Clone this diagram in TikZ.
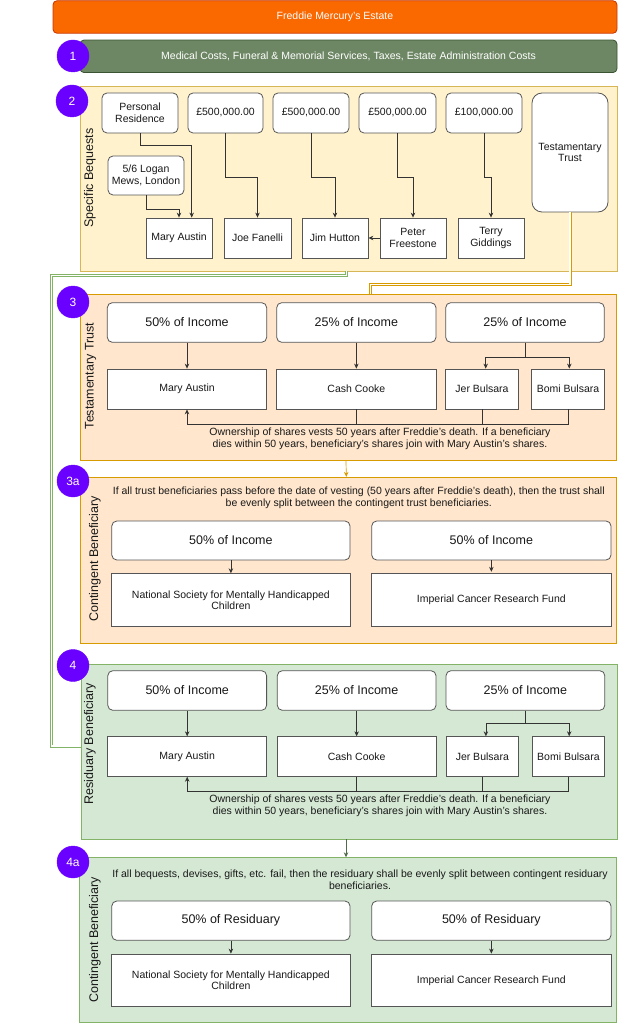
\documentclass[tikz,border=0pt]{standalone}
\usepackage{fontspec}
\setmainfont{Liberation Sans}
\usetikzlibrary{arrows.meta,calc}
\definecolor{estF}{HTML}{FA6800}
\definecolor{estD}{HTML}{C73500}
\definecolor{grnF}{HTML}{6D8764}
\definecolor{grnD}{HTML}{3A5431}
\definecolor{purF}{HTML}{6A00FF}
\definecolor{purD}{HTML}{3700CC}
\definecolor{yelF}{HTML}{FFF2CC}
\definecolor{yelD}{HTML}{D6B656}
\definecolor{ornF}{HTML}{FFE6CC}
\definecolor{ornD}{HTML}{D79B00}
\definecolor{lgrF}{HTML}{D5E8D4}
\definecolor{lgrD}{HTML}{82B366}
\definecolor{boxD}{HTML}{555555}
\definecolor{lnC}{HTML}{333333}
\definecolor{arrG}{HTML}{4F6B4A}
\tikzset{
  sm/.style={font=\fontsize{10.5}{11.6}\selectfont},
  big/.style={font=\fontsize{12.5}{14}\selectfont},
  bx/.style={draw=boxD, fill=white, line width=0.8pt, inner sep=1pt, align=center, sm, text=black!90},
  rbx/.style={bx, rounded corners=5pt},
  panel/.style={line width=0.8pt, inner sep=0pt},
  num/.style={circle, fill=purF, draw=purF, minimum size=32pt, inner sep=0pt, text=white, font=\fontsize{12}{14}\selectfont},
  arr/.style={draw=lnC, line width=0.7pt, -{Stealth[length=5pt,width=4.5pt]}},
  ln/.style={draw=lnC, line width=0.7pt},
  lbl/.style={rotate=90, big, text=black!90},
  note/.style={sm, align=center, text=black!90},
  glink/.style={draw=lgrD, line width=0.7pt, double=white, double distance=1.6pt},
  olink/.style={draw=ornD, line width=0.7pt, double=white, double distance=1.6pt},
}
\begin{document}
\begin{tikzpicture}[x=1pt,y=-1pt]
\useasboundingbox (0,0) rectangle (619,1024);
% ---------- top bars
\node[panel, fill=estF, draw=estD, rounded corners=4pt, minimum width=564pt, minimum height=32.5pt, text=white, sm] (estate) at (335,17) {Freddie Mercury's Estate};
\node[panel, fill=grnF, draw=grnD, rounded corners=4pt, minimum width=537pt, minimum height=32.5pt, text=white, sm] (costs) at (348.5,56.3) {Medical Costs, Funeral \& Memorial Services, Taxes, Estate Administration Costs};
% ---------- panels
\node[panel, fill=yelF, draw=yelD, minimum width=537pt, minimum height=185pt] (p2) at (348.5,178.5) {};
\node[panel, fill=ornF, draw=ornD, minimum width=536pt, minimum height=165.7pt] (p3) at (348,377.2) {};
\node[panel, fill=ornF, draw=ornD, minimum width=536pt, minimum height=166pt] (p3a) at (348,560.3) {};
\node[panel, fill=lgrF, draw=lgrD, minimum width=536pt, minimum height=175pt] (p4) at (349,751.5) {};
\node[panel, fill=lgrF, draw=lgrD, minimum width=537pt, minimum height=165pt] (p4a) at (348.2,940.2) {};
% ---------- section 2 boxes
\node[rbx, minimum width=76pt, minimum height=40pt] (pr) at (140,113) {Personal\\Residence};
\node[rbx, minimum width=75pt, minimum height=40pt] (m1) at (225.5,113) {£500,000.00};
\node[rbx, minimum width=76pt, minimum height=40pt] (m2) at (311,113) {£500,000.00};
\node[rbx, minimum width=77pt, minimum height=40pt] (m3) at (397.5,113) {£500,000.00};
\node[rbx, minimum width=76pt, minimum height=40pt] (m4) at (484,113) {£100,000.00};
\node[bx, rounded corners=10pt, minimum width=76pt, minimum height=119pt] (tt) at (570,152.5) {Testamentary\\Trust};
\node[rbx, minimum width=76pt, minimum height=39pt] (lm) at (146,175.5) {5/6 Logan\\Mews, London};
\node[bx, minimum width=66pt, minimum height=40pt] (ma) at (179,238) {Mary Austin};
\node[bx, minimum width=67pt, minimum height=40pt] (jf) at (257.5,238) {Joe Fanelli};
\node[bx, minimum width=66pt, minimum height=40pt] (jh) at (335,238) {Jim Hutton};
\node[bx, minimum width=66pt, minimum height=40pt] (pf) at (413,238) {Peter\\Freestone};
\node[bx, minimum width=66pt, minimum height=40pt] (tg) at (491,238) {Terry\\Giddings};
\node[lbl] (l2) at (90,178) {Specific Bequests};
% links between sections
\coordinate (g1) at (51.5,275.5);
\coordinate (g2) at (51.5,746);
\draw[glink] ([xshift=-2pt]p2.south) |- (g1) -- (g2) -- (g2 -| p4.west);
\coordinate (o1) at (370.3,284.5);
\draw[olink] (tt.south) |- (o1) -- (o1 |- p3.north);
% section 2 connectors
\draw[arr] (pr.south) -- ++(0,12) -| ([xshift=12.7pt]ma.north);
\draw[arr] (lm.south) -- ++(0,14) -| (ma.north);
\draw[arr] (m1.south) -- ++(0,43.7) -| (jf.north);
\draw[arr] (m2.south) -- ++(0,43.7) -| (jh.north);
\draw[arr] (m3.south) -- ++(0,44) -| (pf.north);
\draw[arr] (m4.south) -- ++(0,44) -| (tg.north);
\draw[arr] (pf.west) -- (jh.east);
% ---------- section 3
\node[rbx, big, minimum width=159.4pt, minimum height=39.6pt] (i1) at (187,322.5) {50\% of Income};
\node[rbx, big, minimum width=159.3pt, minimum height=39.6pt] (i2) at (356.35,322.5) {25\% of Income};
\node[rbx, big, minimum width=158.6pt, minimum height=39.6pt] (i3) at (525,322.5) {25\% of Income};
\node[bx, minimum width=159.4pt, minimum height=40pt] (ma3) at (187,389) {Mary Austin};
\node[bx, minimum width=159.3pt, minimum height=40pt] (cc3) at (356.35,389) {Cash Cooke};
\node[bx, minimum width=72.6pt, minimum height=40pt] (jb3) at (482,389) {Jer Bulsara};
\node[bx, minimum width=72.6pt, minimum height=40pt] (bb3) at (568,389) {Bomi Bulsara};
\draw[arr] (i1.south) -- (ma3.north);
\draw[arr] (i2.south) -- (cc3.north);
\draw[arr] (i3.south) -- ++(0,14.4) -| ([xshift=3.7pt]jb3.north);
\draw[arr] (i3.south) -- ++(0,14.4) -| ([xshift=1.3pt]bb3.north);
\draw[arr] (bb3.south) -- ++(0,15.3) -| (ma3.south);
\draw[ln] (cc3.south) -- ++(0,15.3);
\draw[ln] (jb3.south) -- ++(0,15.3);
\node[note] (t3) at (380,439) {Ownership of shares vests 50 years after Freddie's death. If a beneficiary\\dies within 50 years, beneficiary's shares join with Mary Austin's shares.};
\node[lbl] (l3) at (90.7,376) {Testamentary Trust};
\draw[draw=ornD, line width=0.7pt, -{Stealth[length=5pt,width=4.5pt]}] ([xshift=-2pt]p3.south) -- ([xshift=-1.7pt]p3a.north);
% ---------- section 3a
\node[note] (t3a) at (358.8,498) {If all trust beneficiaries pass before the date of vesting (50 years after Freddie's death), then the trust shall\\be evenly split between the contingent trust beneficiaries.};
\node[rbx, big, minimum width=238.2pt, minimum height=39pt] (c1) at (230.9,540.5) {50\% of Income};
\node[rbx, big, minimum width=239.3pt, minimum height=39pt] (c2) at (491.35,540.5) {50\% of Income};
\node[bx, minimum width=238.2pt, minimum height=53pt] (n1) at (230.9,600.2) {National Society for Mentally Handicapped\\Children};
\node[bx, minimum width=239.3pt, minimum height=53pt] (n2) at (491.35,600.2) {Imperial Cancer Research Fund};
\draw[arr] (c1.south) -- (n1.north);
\draw[ln, {Stealth[length=5pt,width=4.5pt]}-] ([yshift=1.5pt]n2.north) -- (c2.south);
\node[lbl] (l3a) at (94.8,559) {Contingent Beneficiary};
% ---------- section 4
\node[rbx, big, minimum width=158.8pt, minimum height=39.6pt] (j1) at (187.2,690.5) {50\% of Income};
\node[rbx, big, minimum width=158.7pt, minimum height=39.6pt] (j2) at (356.65,690.5) {25\% of Income};
\node[rbx, big, minimum width=158.8pt, minimum height=39.6pt] (j3) at (525.4,690.5) {25\% of Income};
\node[bx, minimum width=158.8pt, minimum height=39.6pt] (ma4) at (187.2,756.5) {Mary Austin};
\node[bx, minimum width=158.7pt, minimum height=39.6pt] (cc4) at (356.65,756.5) {Cash Cooke};
\node[bx, minimum width=72.6pt, minimum height=39.6pt] (jb4) at (482.3,756.5) {Jer Bulsara};
\node[bx, minimum width=72.8pt, minimum height=39.6pt] (bb4) at (568.4,756.5) {Bomi Bulsara};
\draw[arr] (j1.south) -- (ma4.north);
\draw[arr] (j2.south) -- (cc4.north);
\draw[arr] (j3.south) -- ++(0,12.4) -| ([xshift=3.6pt]jb4.north);
\draw[arr] (j3.south) -- ++(0,12.4) -| ([xshift=0.8pt]bb4.north);
\draw[arr] (bb4.south) -- ++(0,14.4) -| (ma4.south);
\draw[ln] (cc4.south) -- ++(0,14.4);
\draw[ln] (jb4.south) -- ++(0,14.4);
\node[note] (t4) at (380,806) {Ownership of shares vests 50 years after Freddie's death. If a beneficiary\\dies within 50 years, beneficiary's shares join with Mary Austin's shares.};
\node[lbl] (l4) at (90,744) {Residuary Beneficiary};
\draw[draw=arrG, line width=0.7pt, -{Stealth[length=5pt,width=4.5pt]}] ([xshift=-3pt]p4.south) -- ([xshift=-2.2pt]p4a.north);
% ---------- section 4a
\node[note] (t4a) at (360,880) {If all bequests, devises, gifts, etc. fail, then the residuary shall be evenly split between contingent residuary\\beneficiaries.};
\node[rbx, big, minimum width=238.2pt, minimum height=39.3pt] (r1) at (230.9,920.65) {50\% of Residuary};
\node[rbx, big, minimum width=239.3pt, minimum height=39.3pt] (r2) at (491.35,920.65) {50\% of Residuary};
\node[bx, minimum width=238.2pt, minimum height=52.7pt] (n3) at (230.9,980.35) {National Society for Mentally Handicapped\\Children};
\node[bx, minimum width=239.3pt, minimum height=52.7pt] (n4) at (491.35,980.35) {Imperial Cancer Research Fund};
\draw[arr] (r1.south) -- (n3.north);
\draw[arr] (r2.south) -- (n4.north);
\node[lbl] (l4a) at (94.8,940) {Contingent Beneficiary};
% ---------- number circles
\node[num] (c1n) at (73,56) {1};
\node[num] (c2n) at (72,101) {2};
\node[num] (c3n) at (73,302) {3};
\node[num] (c3an) at (73,481) {3a};
\node[num] (c4n) at (73,665.5) {4};
\node[num] (c4an) at (73,862) {4a};
\end{tikzpicture}
\end{document}
